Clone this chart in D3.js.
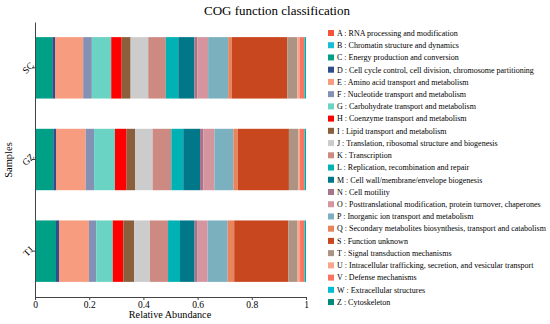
<!DOCTYPE html>
<html>
<head>
<meta charset="utf-8">
<script src="https://cdn.jsdelivr.net/npm/d3@7"></script>
<style>
body{margin:0;background:#fff;}
svg{display:block;font-family:"Liberation Serif","Times New Roman",serif;}
</style>
</head>
<body>
<div id="chart"></div>
<script>
const samples = ["SC","GZ","TJ"];
const cogKeys = ["A","B","C","D","E","F","G","H","I","J","K","L","M","N","O","P","Q","S","T","U","V","W","Z"];
const cogLabels = [
"A : RNA processing and modification",
"B : Chromatin structure and dynamics",
"C : Energy production and conversion",
"D : Cell cycle control, cell division, chromosome partitioning",
"E : Amino acid transport and metabolism",
"F : Nucleotide transport and metabolism",
"G : Carbohydrate transport and metabolism",
"H : Coenzyme transport and metabolism",
"I : Lipid transport and metabolism",
"J : Translation, ribosomal structure and biogenesis",
"K : Transcription",
"L : Replication, recombination and repair",
"M : Cell wall/membrane/envelope biogenesis",
"N : Cell motility",
"O : Posttranslational modification, protein turnover, chaperones",
"P : Inorganic ion transport and metabolism",
"Q : Secondary metabolites biosynthesis, transport and catabolism",
"S : Function unknown",
"T : Signal transduction mechanisms",
"U : Intracellular trafficking, secretion, and vesicular transport",
"V : Defense mechanisms",
"W : Extracellular structures",
"Z : Cytoskeleton"];
const cogColors = ["#F5533B","#17BCD6","#00A087","#2E4E8E","#F89C80","#8491B4","#6AD3C3","#FF0000","#8B5E3C","#CCCCCC","#CD8A82","#00B2B4","#00788A","#A8748B","#D4959F","#7BB0BF","#E8845E","#C9471F","#AD9384","#F9A48C","#F97562","#00BCD4","#00897B"];
const valuesSC = [0.001,0.001,0.0618,0.010,0.104,0.032,0.0715,0.0385,0.033,0.065,0.065,0.046,0.059,0.011,0.040,0.074,0.013,0.205,0.037,0.010,0.016,0.003,0.003];
const valuesGZ = [0.001,0.001,0.0655,0.010,0.1095,0.031,0.077,0.043,0.031,0.065,0.069,0.044,0.062,0.012,0.041,0.070,0.016,0.189,0.035,0.006,0.016,0.003,0.003];
const valuesTJ = [0.001,0.001,0.0755,0.011,0.1105,0.027,0.061,0.039,0.040,0.058,0.067,0.044,0.054,0.011,0.037,0.074,0.024,0.200,0.034,0.009,0.016,0.003,0.003];
const xTicks = [0,0.2,0.4,0.6,0.8,1];

const W = 550, H = 324;
const margin = {left:35, right:244, top:22, bottom:27};
const svg = d3.select("#chart").append("svg").attr("width",W).attr("height",H);

const table = samples.map((s,i)=>{
  const vals = [valuesSC,valuesGZ,valuesTJ][i];
  const row = {sample:s};
  cogKeys.forEach((k,j)=>row[k]=vals[j]);
  return row;
});
const stack = d3.stack().keys(cogKeys)(table);

const x = d3.scaleLinear().domain([0,1]).range([margin.left, W-margin.right]);
const y = d3.scaleBand().domain(samples).range([margin.top, H-margin.bottom]).paddingInner(0.33).paddingOuter(0.165);
const color = d3.scaleOrdinal().domain(cogKeys).range(cogColors);

svg.append("g").selectAll("g").data(stack).join("g")
  .attr("fill",d=>color(d.key))
  .selectAll("rect").data(d=>d).join("rect")
  .attr("x",d=>x(d[0]))
  .attr("width",d=>Math.max(0,x(d[1])-x(d[0])))
  .attr("y",d=>y(d.data.sample))
  .attr("height",y.bandwidth());

const xAxis = svg.append("g").attr("transform",`translate(0,${H-margin.bottom})`)
  .call(d3.axisBottom(x).tickValues(xTicks).tickFormat(d3.format("~g")).tickSize(3).tickPadding(1).tickSizeOuter(0));
xAxis.select(".domain").attr("stroke","#444");
xAxis.selectAll(".tick line").attr("stroke","#444");
xAxis.selectAll("text").attr("font-size",9.5).attr("fill","#000").attr("font-family","Liberation Serif, serif");

const yAxis = svg.append("g").attr("transform",`translate(${margin.left},0)`)
  .call(d3.axisLeft(y).tickSize(3).tickSizeOuter(0));
yAxis.select(".domain").attr("stroke","#444");
yAxis.selectAll(".tick line").attr("stroke","#444");
yAxis.selectAll("text").attr("font-size",9.5).attr("fill","#000").attr("font-family","Liberation Serif, serif")
  .attr("text-anchor","middle").attr("dy","0.35em")
  .attr("transform","translate(-7,0) rotate(-45)").attr("x",0);

svg.append("text").attr("x",170).attr("y",318).attr("text-anchor","middle")
  .attr("font-size",10.2).text("Relative Abundance");
svg.append("text").attr("transform","translate(12,160) rotate(-90)").attr("text-anchor","middle")
  .attr("font-size",10.5).text("Samples");
svg.append("text").attr("x",277).attr("y",15).attr("text-anchor","middle")
  .attr("font-size",13).text("COG function classification");

const leg = svg.append("g").attr("transform","translate(328,33)");
const items = leg.selectAll("g").data(cogKeys).join("g")
  .attr("transform",(d,i)=>`translate(0,${i*12.23})`);
items.append("rect").attr("x",0).attr("y",-3).attr("width",6).attr("height",6).attr("fill",d=>color(d));
items.append("text").attr("x",9).attr("y",0).attr("dy","0.35em").attr("font-size",8)
  .text((d,i)=>cogLabels[i]);
</script>
</body>
</html>
